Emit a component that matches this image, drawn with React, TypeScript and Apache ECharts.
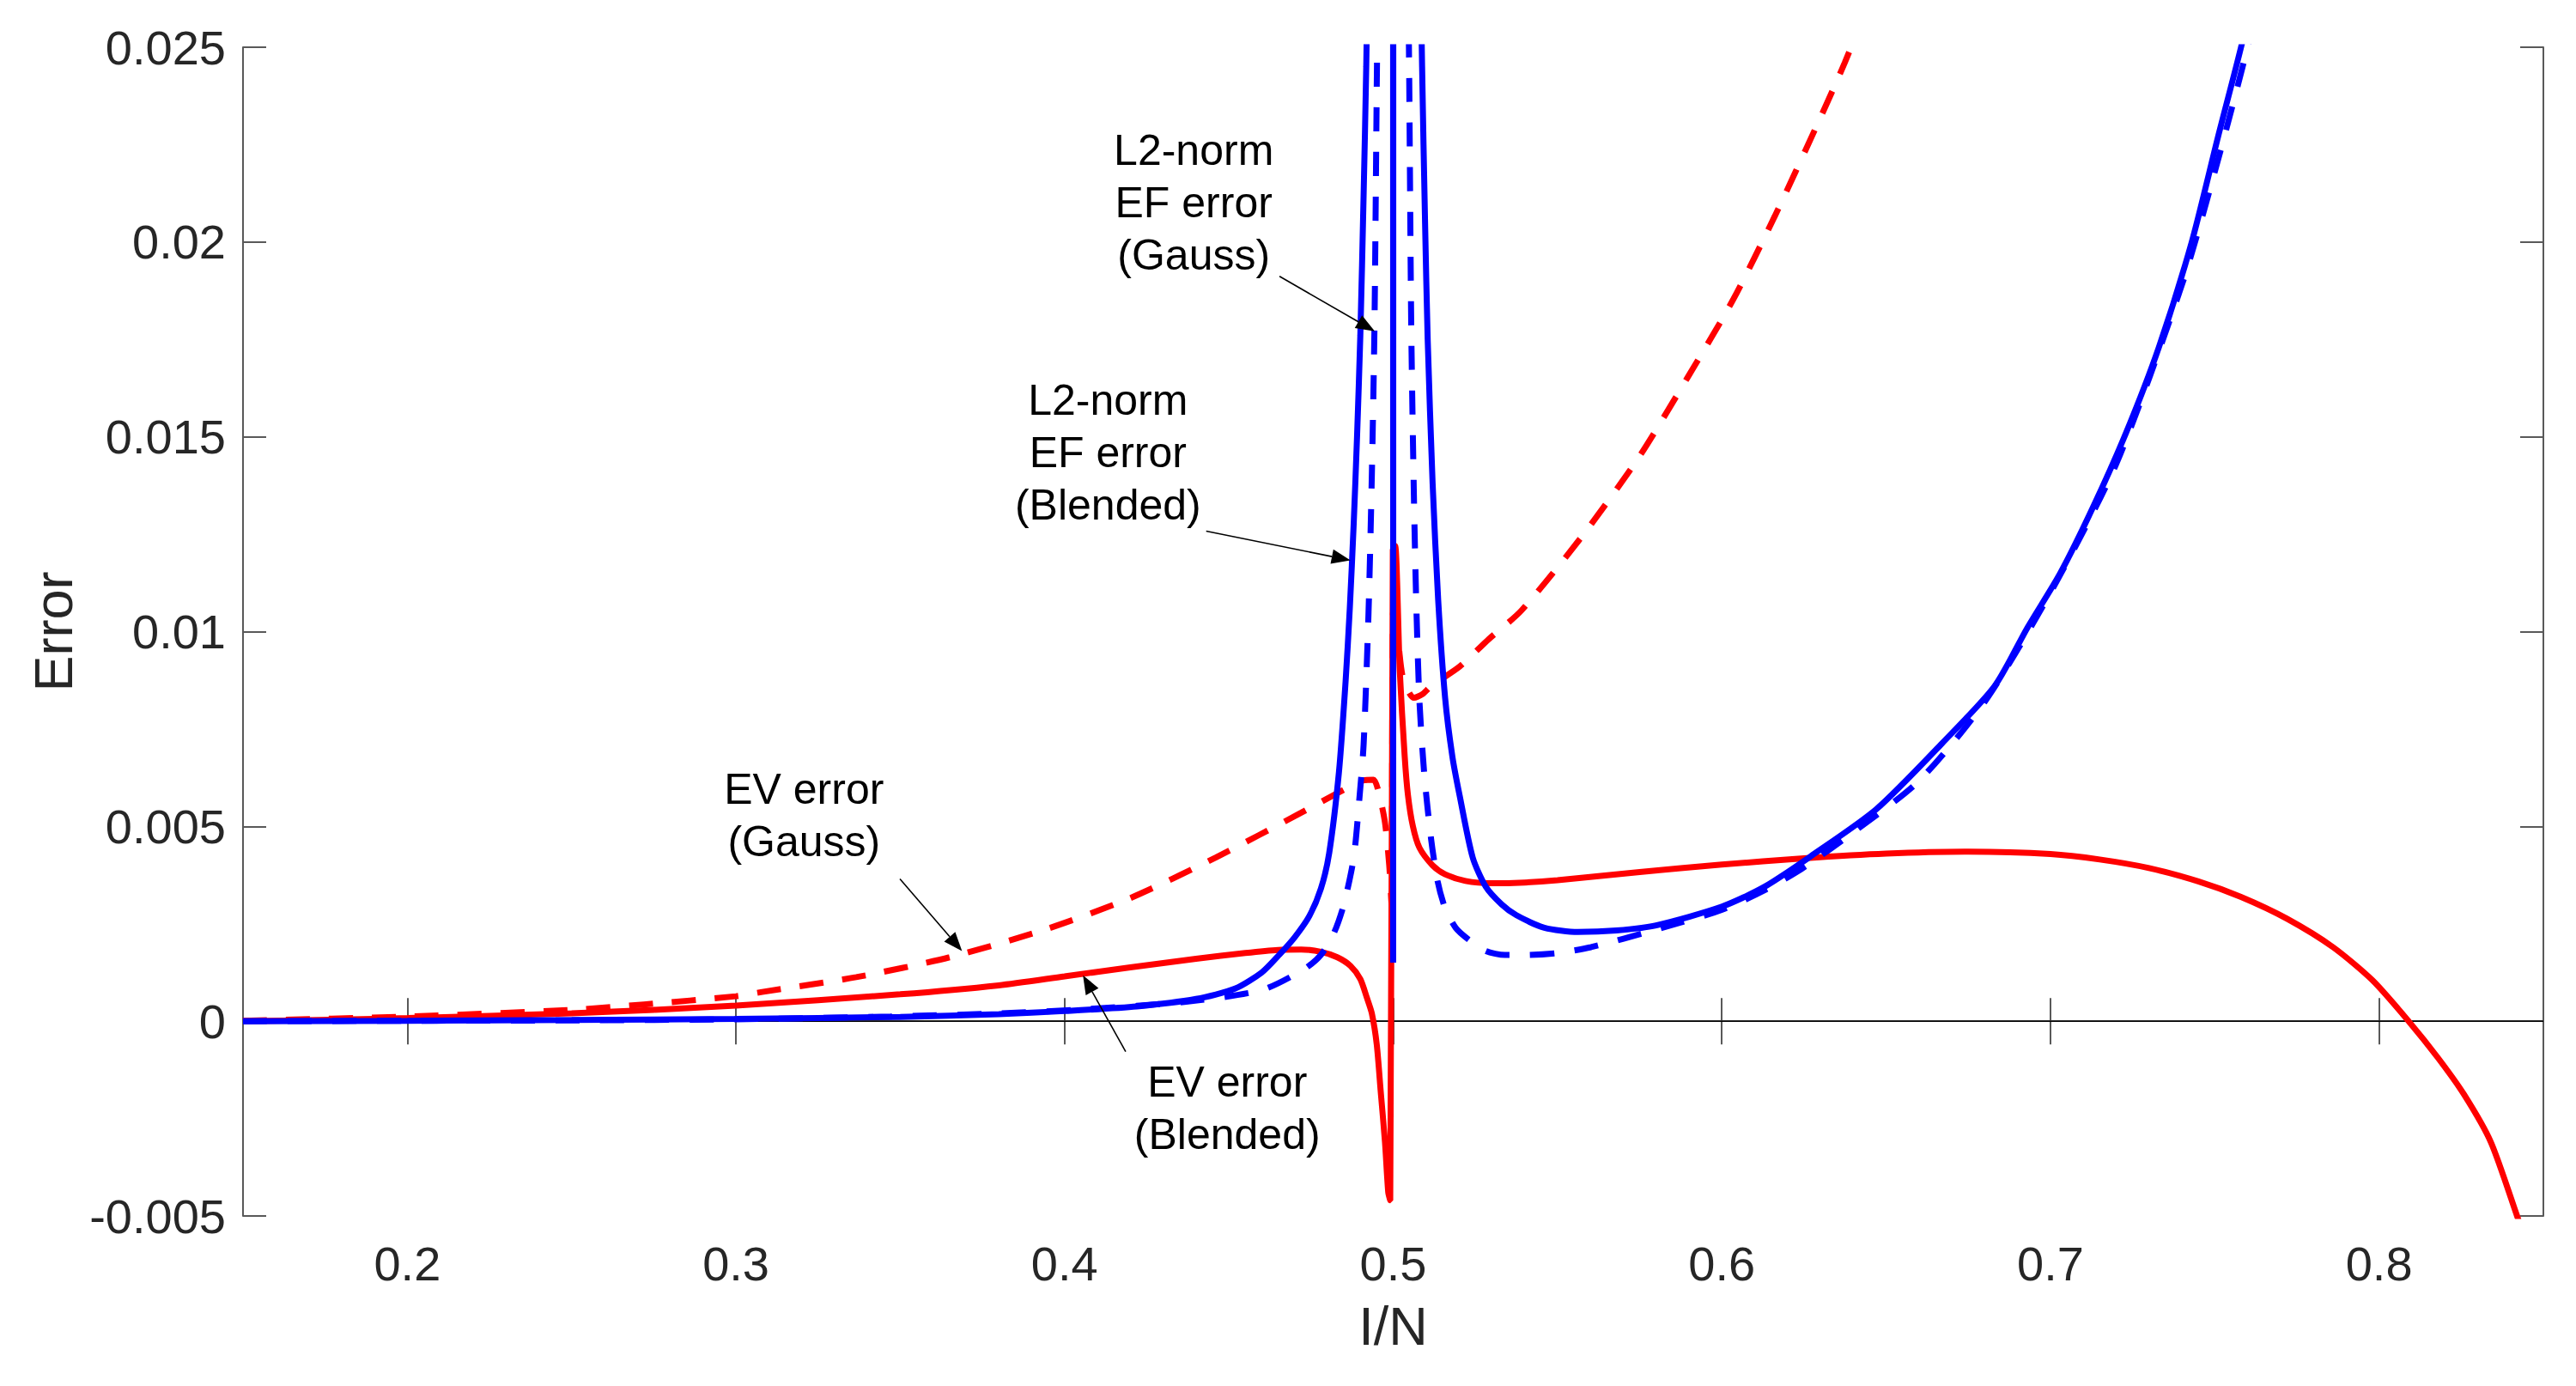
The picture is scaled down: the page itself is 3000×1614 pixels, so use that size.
import React, { useEffect, useRef } from "react";
import * as echarts from "echarts";

// ---------- data ----------
const X_TICKS = [0.2, 0.3, 0.4, 0.5, 0.6, 0.7, 0.8];

// EV error (Blended) — red solid
const EVB_X = [0.15, 0.18, 0.2, 0.25, 0.3, 0.35, 0.38, 0.4, 0.42, 0.44, 0.455, 0.465, 0.472, 0.478, 0.483, 0.487, 0.49, 0.492, 0.4935, 0.495, 0.4962, 0.4975, 0.4985, 0.4991, 0.4999, 0.5006, 0.502, 0.5035, 0.5045, 0.506, 0.508, 0.512, 0.5158, 0.522, 0.53, 0.54, 0.55, 0.575, 0.6, 0.625, 0.65, 0.675, 0.7, 0.715, 0.73, 0.745, 0.758, 0.772, 0.786, 0.798, 0.809, 0.818, 0.826, 0.834, 0.842, 0.846];
const EVB_Y = [0, 0.00004, 0.00008, 0.0002, 0.0004, 0.00069, 0.00092, 0.00115, 0.00138, 0.0016, 0.00175, 0.00183, 0.00184, 0.00178, 0.00164, 0.00142, 0.00108, 0.0006, 0.0002, -0.0006, -0.0018, -0.0031, -0.0044, -0.0046, 0.0121, 0.0122, 0.009, 0.0068, 0.0058, 0.005, 0.00445, 0.004, 0.00377, 0.0036, 0.00354, 0.00356, 0.00362, 0.00383, 0.00402, 0.00418, 0.0043, 0.00435, 0.00429, 0.00415, 0.00393, 0.00359, 0.00319, 0.00263, 0.0019, 0.00105, 0.0, -0.00095, -0.0019, -0.0031, -0.005, -0.006];

// EV error (Gauss) — red dashed
const EVG_X = [0.15, 0.2, 0.25, 0.272, 0.3, 0.308, 0.3366, 0.365, 0.394, 0.42, 0.446, 0.472, 0.485, 0.491, 0.494, 0.4958, 0.4975, 0.4988, 0.4995, 0.5, 0.5012, 0.503, 0.5063, 0.509, 0.5115, 0.5202, 0.529, 0.539, 0.5575, 0.5748, 0.5895, 0.6035, 0.6161, 0.6288, 0.6374, 0.645];
const EVG_Y = [0.00001, 0.00012, 0.00029, 0.00043, 0.00064, 0.00075, 0.00113, 0.00164, 0.00235, 0.00316, 0.0042, 0.00535, 0.00594, 0.00618, 0.0062, 0.0058, 0.0051, 0.004, 0.003, 0.0105, 0.01, 0.0088, 0.0083, 0.0084, 0.0086, 0.0091, 0.0098, 0.01054, 0.01245, 0.01448, 0.01651, 0.01853, 0.02066, 0.02297, 0.0246, 0.0262];

// L2-norm EF error (Blended) — blue solid
const L2B_X = [0.15, 0.2, 0.25, 0.3, 0.35, 0.38, 0.4, 0.422, 0.44, 0.452, 0.46, 0.4655, 0.47, 0.4745, 0.478, 0.4805, 0.4835, 0.4855, 0.4868, 0.488, 0.489, 0.49, 0.491, 0.4918, 0.493, 0.4995, 0.5, 0.5005, 0.5075, 0.5088, 0.5097, 0.5105, 0.512, 0.5137, 0.5158, 0.518, 0.5202, 0.5242, 0.5282, 0.533, 0.5375, 0.546, 0.5562, 0.568, 0.58, 0.6, 0.613, 0.627, 0.647, 0.667, 0.683, 0.693, 0.703, 0.713, 0.723, 0.733, 0.743, 0.751, 0.758, 0.764];
const L2B_Y = [0, 0.00001, 0.00003, 0.00006, 0.00011, 0.00018, 0.00026, 0.00038, 0.00057, 0.00084, 0.00125, 0.00172, 0.00215, 0.0027, 0.0034, 0.0043, 0.0064, 0.0087, 0.0106, 0.0128, 0.015, 0.0176, 0.0212, 0.0245, 0.032, 0.2, 0.0015, 0.2, 0.032, 0.0245, 0.0205, 0.0175, 0.0138, 0.0108, 0.0083, 0.0068, 0.0058, 0.0042, 0.00345, 0.003, 0.00272, 0.0024, 0.00229, 0.00233, 0.00246, 0.00294, 0.00345, 0.00423, 0.00544, 0.00713, 0.0086, 0.0101, 0.0115, 0.0132, 0.0151, 0.0173, 0.02, 0.0227, 0.025, 0.0272];

// L2-norm EF error (Gauss) — blue dashed
const L2G_X = [0.15, 0.2, 0.25, 0.3, 0.347, 0.38, 0.407, 0.437, 0.46, 0.473, 0.478, 0.482, 0.485, 0.488, 0.4897, 0.491, 0.4925, 0.4935, 0.4943, 0.495, 0.4957, 0.4995, 0.5005, 0.5043, 0.5049, 0.5055, 0.5063, 0.507, 0.508, 0.5095, 0.5115, 0.5135, 0.5158, 0.519, 0.5229, 0.5282, 0.534, 0.5402, 0.55, 0.5602, 0.58, 0.6, 0.6134, 0.6241, 0.64, 0.66, 0.68, 0.7, 0.72, 0.74, 0.75, 0.76, 0.766];
const L2G_Y = [0, 0.00001, 0.00002, 0.00005, 0.00012, 0.0002, 0.00031, 0.0005, 0.0008, 0.00134, 0.0017, 0.00227, 0.003, 0.0042, 0.0057, 0.0071, 0.0105, 0.014, 0.0178, 0.024, 0.03, 0.2, 0.2, 0.03, 0.024, 0.0178, 0.0135, 0.0108, 0.0082, 0.0063, 0.0047, 0.0036, 0.0029, 0.0024, 0.0021, 0.0018, 0.0017, 0.0017, 0.00175, 0.0019, 0.00235, 0.00286, 0.00338, 0.0039, 0.00485, 0.00617, 0.0082, 0.011, 0.0143, 0.0189, 0.0218, 0.025, 0.0272];

// zero reference line
const ZERO_X = [0.15, 0.85];
const ZERO_Y = [0, 0];

// annotations (data coordinates)
const ANNOT_TEXT = ["L2-norm\nEF error\n(Gauss)", "L2-norm\nEF error\n(Blended)", "EV error\n(Gauss)", "EV error\n(Blended)"];
const ANNOT_X = [0.4393, 0.4132, 0.3207, 0.4495];
const ANNOT_Y = [0.02102, 0.0146, 0.00529, -0.00223];
const ARROW_FROM_X = [0.4654, 0.4431, 0.3499, 0.4186];
const ARROW_FROM_Y = [0.01912, 0.01258, 0.00365, -0.00078];
const ARROW_TO_X = [0.4944, 0.487, 0.3688, 0.4056];
const ARROW_TO_Y = [0.01771, 0.01183, 0.0018, 0.00118];

const FONT = '"Liberation Sans", Arial, Helvetica, sans-serif';
const AXIS_COLOR = "#595959";
const TEXT_COLOR = "#262626";

const pairs = (xs: number[], ys: number[]) => xs.map((x, i) => [x, ys[i]]);

export default function App() {
  const ref = useRef<HTMLDivElement>(null);

  useEffect(() => {
    if (!ref.current) return;
    const chart = echarts.init(ref.current, null, { renderer: "svg" });

    const axisLine = { show: true, lineStyle: { color: AXIS_COLOR, width: 2 } };
    const tickStyle = { color: AXIS_COLOR, width: 2 };
    const fmt = (v: number) => String(parseFloat(Number(v).toFixed(4)));
    const SMOOTH = 0.25;

    const option: any = {
      animation: false,
      backgroundColor: "#ffffff",
      grid: { left: 283, right: 38, top: 55, bottom: 198, containLabel: false },
      xAxis: [
        {
          type: "value",
          min: 0.15,
          max: 0.85,
          position: "bottom",
          name: "I/N",
          nameLocation: "middle",
          nameGap: 96,
          nameTextStyle: { fontSize: 63, color: TEXT_COLOR, fontFamily: FONT },
          axisLine,
          axisTick: { show: true, inside: true, length: 27, customValues: X_TICKS, lineStyle: tickStyle },
          axisLabel: { show: true, customValues: X_TICKS, fontSize: 56, margin: 27, color: TEXT_COLOR, fontFamily: FONT, formatter: fmt },
          splitLine: { show: false },
        },
        {
          type: "value",
          min: 0.15,
          max: 0.85,
          position: "top",
          axisLine,
          axisTick: { show: true, inside: true, length: 27, customValues: X_TICKS, lineStyle: tickStyle },
          axisLabel: { show: false },
          splitLine: { show: false },
        },
      ],
      yAxis: [
        {
          type: "value",
          min: -0.005,
          max: 0.025,
          interval: 0.005,
          position: "left",
          name: "Error",
          nameLocation: "middle",
          nameGap: 190,
          nameRotate: 90,
          nameTextStyle: { fontSize: 63, color: TEXT_COLOR, fontFamily: FONT },
          axisLine,
          axisTick: { show: true, inside: true, length: 27, lineStyle: tickStyle },
          axisLabel: { show: true, fontSize: 56, margin: 20, color: TEXT_COLOR, fontFamily: FONT, formatter: fmt },
          splitLine: { show: false },
        },
        {
          type: "value",
          min: -0.005,
          max: 0.025,
          interval: 0.005,
          position: "right",
          axisLine,
          axisTick: { show: true, inside: true, length: 27, lineStyle: tickStyle },
          axisLabel: { show: false },
          splitLine: { show: false },
        },
      ],
      series: [
        {
          name: "zero",
          type: "line",
          data: pairs(ZERO_X, ZERO_Y),
          showSymbol: false,
          lineStyle: { color: "#000000", width: 1.5 },
          z: 1,
          silent: true,
        },
        {
          name: "EV error (Gauss)",
          type: "line",
          data: pairs(EVG_X, EVG_Y),
          showSymbol: false,
          clip: true,
          smooth: SMOOTH,
          lineStyle: { color: "#ff0000", width: 7, type: [28, 22], cap: "butt" },
          z: 2,
        },
        {
          name: "EV error (Blended)",
          type: "line",
          data: pairs(EVB_X, EVB_Y),
          showSymbol: false,
          clip: true,
          smooth: SMOOTH,
          lineStyle: { color: "#ff0000", width: 7 },
          z: 2,
        },
        {
          name: "L2-norm EF error (Gauss)",
          type: "line",
          data: pairs(L2G_X, L2G_Y),
          showSymbol: false,
          clip: true,
          smooth: SMOOTH,
          lineStyle: { color: "#0000ff", width: 7, type: [28, 24], cap: "butt" },
          z: 3,
        },
        {
          name: "L2-norm EF error (Blended)",
          type: "line",
          data: pairs(L2B_X, L2B_Y),
          showSymbol: false,
          clip: true,
          smooth: SMOOTH,
          lineStyle: { color: "#0000ff", width: 7 },
          z: 3,
        },
      ],
    };

    chart.setOption(option);

    const px = (x: number, y: number) => chart.convertToPixel({ gridIndex: 0 }, [x, y]) as number[];
    const graphics: any[] = [];
    ANNOT_TEXT.forEach((t, i) => {
      const p = px(ANNOT_X[i], ANNOT_Y[i]);
      graphics.push({
        type: "text",
        x: p[0],
        y: p[1],
        z: 100,
        style: {
          text: t,
          fill: "#000000",
          fontSize: 50,
          fontFamily: FONT,
          align: "center",
          verticalAlign: "middle",
          lineHeight: 61,
        },
      });
      const a = px(ARROW_FROM_X[i], ARROW_FROM_Y[i]);
      const b = px(ARROW_TO_X[i], ARROW_TO_Y[i]);
      const dx = b[0] - a[0];
      const dy = b[1] - a[1];
      const len = Math.sqrt(dx * dx + dy * dy);
      const ux = dx / len;
      const uy = dy / len;
      const L = 22;
      const W = 8.5;
      const bx = b[0] - ux * L;
      const by = b[1] - uy * L;
      graphics.push({
        type: "line",
        z: 100,
        shape: { x1: a[0], y1: a[1], x2: bx, y2: by },
        style: { stroke: "#000000", lineWidth: 1.6 },
      });
      graphics.push({
        type: "polygon",
        z: 100,
        shape: {
          points: [
            [b[0], b[1]],
            [bx - uy * W, by + ux * W],
            [bx + uy * W, by - ux * W],
          ],
        },
        style: { fill: "#000000" },
      });
    });
    chart.setOption({ graphic: graphics });

    return () => chart.dispose();
  }, []);

  return (
    <div
      ref={ref}
      style={{ position: "fixed", left: 0, top: 0, width: 3000, height: 1614, background: "#ffffff" }}
    />
  );
}
